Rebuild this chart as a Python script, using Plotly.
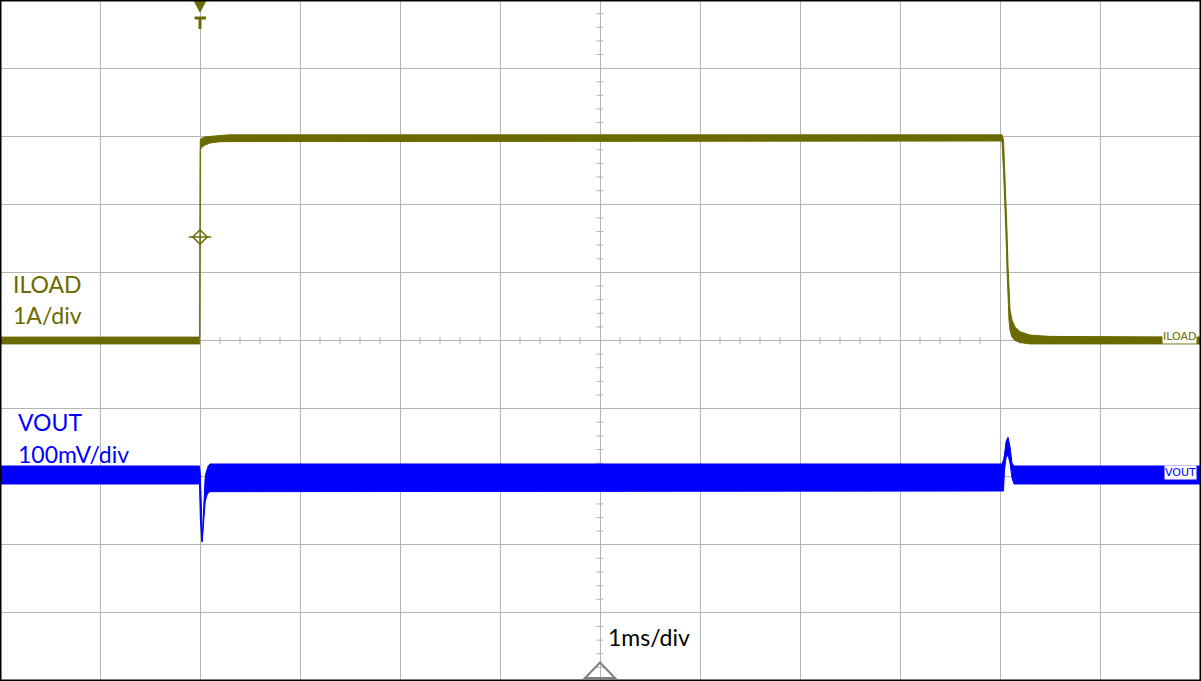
import plotly.graph_objects as go

# ---------------- data (read from the scope capture) ----------------
# time in ms relative to the trigger (1 ms/div), ILOAD in A (1 A/div)
t_iload = [-2.0, -0.003, 0.003, 0.02, 0.05, 0.1, 0.2, 0.3, 8.02, 8.035, 8.05, 8.06,
           8.07, 8.08, 8.09, 8.10, 8.12, 8.15, 8.2, 8.3, 8.5, 10.01]
iload_upper = [0.05, 0.05, 2.95, 2.97, 2.99, 3.0, 3.01, 3.02, 3.02, 2.95, 2.45, 2.05,
               1.6, 1.1, 0.65, 0.45, 0.3, 0.2, 0.13, 0.08, 0.06, 0.05]
iload_lower = [-0.05, -0.05, 2.80, 2.84, 2.87, 2.9, 2.92, 2.93, 2.93, 2.5, 2.0, 1.55,
               1.05, 0.6, 0.3, 0.15, 0.05, 0.0, -0.03, -0.05, -0.05, -0.05]

# VOUT deviation in mV (100 mV/div), upper / lower edge of the noise band
t_vout = [-2.0, -0.005, 0.003, 0.012, 0.018, 0.022, 0.028, 0.035, 0.04, 0.05, 0.055,
          0.07, 0.08, 0.1, 0.12, 8.02, 8.035, 8.045, 8.06, 8.08, 8.10, 8.12, 8.14, 10.01]
vout_upper = [15.7, 15.7, 5, -40, -70, -85, -75, -45, -30, -5, 3,
              12, 15, 18.7, 18.7, 18.7, 25, 32, 51, 58, 44, 20, 15.7, 15.7]
vout_lower = [-10.7, -10.7, -60, -85, -95, -96, -95, -75, -60, -40, -35,
              -27, -24, -22, -21, -21, -21, 9.8, 27.5, 32, 20, -2, -10.7, -10.7]

trigger_time = [0.0]
trigger_level = [1.52]

OLIVE = "#6B6A00"
BLUE = "#0000FF"
GRID = "#B4B4B4"

fig = go.Figure()

# center-line minor ticks (0.2 div)
hx = [k / 5 for k in range(-10, 51) if k % 5 != 0]
fig.add_trace(go.Scatter(x=hx, y=[0] * len(hx), mode="markers",
                         marker=dict(symbol="line-ns-open", size=5, color=GRID,
                                     line=dict(color=GRID, width=1)),
                         hoverinfo="skip", showlegend=False))
vy = [k / 5 for k in range(-25, 26) if k % 5 != 0]
fig.add_trace(go.Scatter(x=[4] * len(vy), y=vy, mode="markers",
                         marker=dict(symbol="line-ew-open", size=5, color=GRID,
                                     line=dict(color=GRID, width=1)),
                         hoverinfo="skip", showlegend=False))

# ILOAD band
fig.add_trace(go.Scatter(x=t_iload + t_iload[::-1], y=iload_upper + iload_lower[::-1],
                         fill="toself", fillcolor=OLIVE, mode="lines",
                         line=dict(color=OLIVE, width=1), hoverinfo="skip", showlegend=False))
# VOUT band
fig.add_trace(go.Scatter(x=t_vout + t_vout[::-1], y=vout_upper + vout_lower[::-1],
                         fill="toself", fillcolor=BLUE, mode="lines", yaxis="y2",
                         line=dict(color=BLUE, width=1), hoverinfo="skip", showlegend=False))

# trigger level marker
fig.add_trace(go.Scatter(x=trigger_time, y=trigger_level, mode="markers",
                         marker=dict(symbol="line-ew-open", size=16, color=OLIVE,
                                     line=dict(color=OLIVE, width=1.5)),
                         hoverinfo="skip", showlegend=False))
fig.add_trace(go.Scatter(x=trigger_time, y=trigger_level, mode="markers",
                         marker=dict(symbol="diamond-open", size=11, color=OLIVE,
                                     line=dict(color=OLIVE, width=1.5)),
                         hoverinfo="skip", showlegend=False))

shapes = [
    # trigger marker on top
    dict(type="path", xref="x", yref="paper", xsizemode="pixel", ysizemode="pixel",
         xanchor=0, yanchor=1, path="M -5.5,-1.5 L 5.5,-1.5 L 0,-12 Z",
         fillcolor=OLIVE, line=dict(color=OLIVE, width=1)),
    dict(type="rect", xref="x", yref="paper", xsizemode="pixel", ysizemode="pixel",
         xanchor=0, yanchor=1, x0=-5.5, x1=6, y0=-16.5, y1=-19.5,
         fillcolor=OLIVE, line=dict(width=0)),
    dict(type="rect", xref="x", yref="paper", xsizemode="pixel", ysizemode="pixel",
         xanchor=0, yanchor=1, x0=-1.5, x1=1.5, y0=-19, y1=-29,
         fillcolor=OLIVE, line=dict(width=0)),
    # horizontal position marker at bottom
    dict(type="path", xref="x", yref="paper", xsizemode="pixel", ysizemode="pixel",
         xanchor=4, yanchor=0, path="M -15,3 L 15,3 L 0,18.5 Z",
         line=dict(color="#808080", width=2)),
    # frame
    dict(type="rect", xref="paper", yref="paper", x0=0, x1=1, y0=0, y1=1,
         line=dict(color="black", width=3)),
]

FONT = "Lato"
annotations = [
    dict(text="ILOAD", x=-1.89, y=0.83, xref="x", yref="y", xanchor="left", yanchor="middle",
         showarrow=False, font=dict(family=FONT, size=23, color=OLIVE)),
    dict(text="1A/div", x=-1.89, y=0.37, xref="x", yref="y", xanchor="left", yanchor="middle",
         showarrow=False, font=dict(family=FONT, size=23, color=OLIVE)),
    dict(text="VOUT", x=-1.84, y=81, xref="x", yref="y2", xanchor="left", yanchor="middle",
         showarrow=False, font=dict(family=FONT, size=23, color=BLUE)),
    dict(text="100mV/div", x=-1.84, y=33, xref="x", yref="y2", xanchor="left", yanchor="middle",
         showarrow=False, font=dict(family=FONT, size=23, color=BLUE)),
    dict(text="1ms/div", x=4.06, y=-4.35, xref="x", yref="y", xanchor="left", yanchor="middle",
         showarrow=False, font=dict(family=FONT, size=23, color="black")),
    dict(text="ILOAD", x=9.97, y=0.066, xref="x", yref="y", xanchor="right", yanchor="middle",
         showarrow=False, bgcolor="white", borderpad=0,
         font=dict(family="DejaVu Sans", size=11, color=OLIVE)),
    dict(text="VOUT", x=9.97, y=6.9, xref="x", yref="y2", xanchor="right", yanchor="middle",
         showarrow=False, bgcolor="white", borderpad=0,
         font=dict(family="DejaVu Sans", size=11, color=BLUE)),
]

fig.update_layout(
    width=1201, height=681, margin=dict(l=0, r=0, t=0, b=0),
    paper_bgcolor="white", plot_bgcolor="white",
    xaxis=dict(range=[-2, 10.01], tick0=-2, dtick=1, showgrid=True, gridcolor=GRID, gridwidth=1,
               zeroline=False, showticklabels=False, ticks="", showline=False),
    yaxis=dict(range=[-5, 5], tick0=-5, dtick=1, showgrid=True, gridcolor=GRID, gridwidth=1,
               zeroline=False, showticklabels=False, ticks="", showline=False),
    yaxis2=dict(range=[-300, 700], overlaying="y", visible=False, showgrid=False, zeroline=False),
    shapes=shapes, annotations=annotations, showlegend=False,
)

fig.write_html("out.html", config={"displayModeBar": False},
               post_script="document.body.style.margin='0';document.body.style.padding='0';"
                           "document.body.style.overflow='hidden';")
